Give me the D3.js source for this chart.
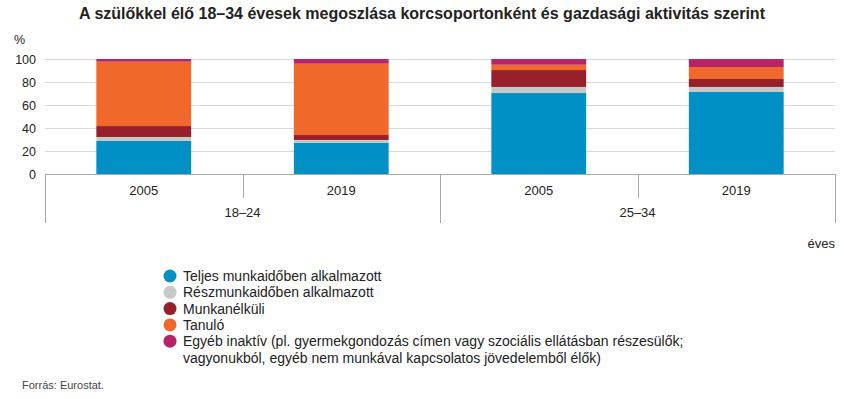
<!DOCTYPE html>
<html>
<head>
<meta charset="utf-8">
<script src="https://cdn.jsdelivr.net/npm/d3@7"></script>
<style>
  body { margin: 0; background: #fff; font-family: "Liberation Sans", Arial, sans-serif; }
  svg text { fill: #222; }
</style>
</head>
<body>
<div id="chart"></div>
<script>
var groups = ["18–24", "25–34"];
var years = ["2005", "2019"];
var seriesNames = [
  "Teljes munkaidőben alkalmazott",
  "Részmunkaidőben alkalmazott",
  "Munkanélküli",
  "Tanuló",
  "Egyéb inaktív (pl. gyermekgondozás címen vagy szociális ellátásban részesülők;"
];
var legendSecondLine = "vagyonukból, egyéb nem munkával kapcsolatos jövedelemből élők)";
var colors = ["#0090c6", "#c8c8c8", "#98202b", "#f0692a", "#b72568"];

// values per bar: 18–24 2005, 18–24 2019, 25–34 2005, 25–34 2019
var fullTime  = [28.7, 27.0, 70.4, 71.3];
var partTime  = [3.5, 2.6, 5.3, 4.4];
var unemployed = [9.5, 4.3, 14.7, 6.9];
var student   = [56.0, 62.0, 4.6, 10.4];
var otherInactive = [2.3, 4.1, 5.0, 7.0];
var yTicks = [0, 20, 40, 60, 80, 100];

var width = 844, height = 399;
var plotLeft = 45, plotRight = 835, plotTop = 59, plotBottom = 174;

var svg = d3.select("#chart").append("svg")
    .attr("width", width).attr("height", height);

svg.append("text")
  .attr("x", 422).attr("y", 19)
  .attr("text-anchor", "middle")
  .style("font-size", "16px").style("font-weight", "bold")
  .text("A szülőkkel élő 18–34 évesek megoszlása korcsoportonként és gazdasági aktivitás szerint");

var keys = [];
groups.forEach(function(g) { years.forEach(function(y) { keys.push(g + "|" + y); }); });

var x = d3.scaleBand().domain(keys).range([plotLeft, plotRight]).paddingInner(0.52).paddingOuter(0.26);
var y = d3.scaleLinear().domain([0, 100]).range([plotBottom, plotTop]);

// grid
svg.append("g").selectAll("line")
  .data(yTicks.filter(function(d) { return d > 0; }))
  .enter().append("line")
    .attr("x1", plotLeft).attr("x2", plotRight)
    .attr("y1", function(d) { return Math.round(y(d)) + 0.5; })
    .attr("y2", function(d) { return Math.round(y(d)) + 0.5; })
    .attr("stroke", "#d9d9d9").attr("stroke-width", 1);

// y labels
svg.append("g").selectAll("text")
  .data(yTicks)
  .enter().append("text")
    .attr("x", 36).attr("y", function(d) { return y(d) + 4.5; })
    .attr("text-anchor", "end")
    .style("font-size", "12.5px")
    .text(function(d) { return d; });

svg.append("text").attr("x", 14).attr("y", 44).style("font-size", "12.5px").text("%");

// stacks
var rows = keys.map(function(k, i) {
  return { key: k, s0: fullTime[i], s1: partTime[i], s2: unemployed[i], s3: student[i], s4: otherInactive[i] };
});
var stack = d3.stack().keys(["s0", "s1", "s2", "s3", "s4"]);
var layers = stack(rows);

svg.append("g").selectAll("g")
  .data(layers)
  .enter().append("g")
    .attr("fill", function(d, i) { return colors[i]; })
  .selectAll("rect")
  .data(function(d) { return d; })
  .enter().append("rect")
    .attr("x", function(d) { return x(d.data.key); })
    .attr("width", x.bandwidth())
    .attr("y", function(d) { return y(d[1]); })
    .attr("height", function(d) { return y(d[0]) - y(d[1]); });

// axis lines
var axisColor = "#a8a8a8";
var ax = svg.append("g").attr("stroke", axisColor).attr("stroke-width", 1);
ax.append("line").attr("x1", plotLeft).attr("x2", plotRight).attr("y1", plotBottom + 0.5).attr("y2", plotBottom + 0.5);
var step = (plotRight - plotLeft) / keys.length;
[0, 2, 4].forEach(function(i) {
  var xx = Math.round(plotLeft + i * step) + 0.5;
  ax.append("line").attr("x1", xx).attr("x2", xx).attr("y1", plotBottom).attr("y2", 223);
});
[1, 3].forEach(function(i) {
  var xx = Math.round(plotLeft + i * step) + 0.5;
  ax.append("line").attr("x1", xx).attr("x2", xx).attr("y1", plotBottom).attr("y2", 198);
});

// year labels
svg.append("g").selectAll("text")
  .data(keys)
  .enter().append("text")
    .attr("x", function(d) { return x(d) + x.bandwidth() / 2; })
    .attr("y", 195)
    .attr("text-anchor", "middle")
    .style("font-size", "13px")
    .text(function(d) { return d.split("|")[1]; });

// group labels
svg.append("g").selectAll("text")
  .data(groups)
  .enter().append("text")
    .attr("x", function(d, i) { return plotLeft + (i * 2 + 1) * step; })
    .attr("y", 217)
    .attr("text-anchor", "middle")
    .style("font-size", "13px")
    .text(function(d) { return d; });

svg.append("text").attr("x", 835).attr("y", 248).attr("text-anchor", "end")
  .style("font-size", "13px").text("éves");

// legend
var legend = svg.append("g").selectAll("g")
  .data(seriesNames)
  .enter().append("g")
    .attr("transform", function(d, i) { return "translate(170," + (276 + i * 16.3) + ")"; });
legend.append("circle").attr("r", 6.5).attr("fill", function(d, i) { return colors[i]; });
legend.append("text").attr("x", 13).attr("y", 5)
  .style("font-size", "14px").text(function(d) { return d; });
svg.append("text").attr("x", 183).attr("y", 276 + 5 * 16.3 + 5)
  .style("font-size", "14px").text(legendSecondLine);

svg.append("text").attr("x", 22).attr("y", 389)
  .style("font-size", "11px").style("fill", "#444").text("Forrás: Eurostat.");
</script>
</body>
</html>
